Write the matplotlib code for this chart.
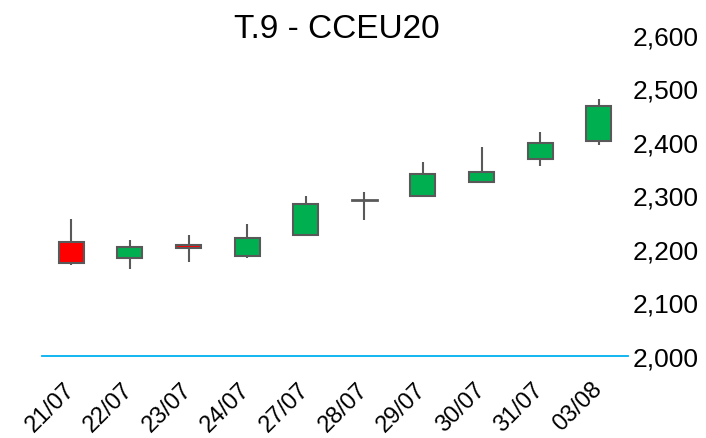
import matplotlib
matplotlib.use("Agg")
import matplotlib.pyplot as plt
from matplotlib.patches import Rectangle
from matplotlib.transforms import ScaledTranslation

plt.rcParams['font.family'] = ['Liberation Sans', 'DejaVu Sans']

dates = ["21/07", "22/07", "23/07", "24/07", "27/07", "28/07", "29/07", "30/07", "31/07", "03/08"]
opens = [2214, 2184, 2208, 2187, 2227, 2291, 2299, 2326, 2368, 2401]
highs = [2257, 2217, 2227, 2247, 2300, 2306, 2362, 2391, 2418, 2480]
lows = [2171, 2162, 2175, 2184, 2227, 2254, 2297, 2326, 2356, 2395]
closes = [2174, 2204, 2201, 2221, 2284, 2291, 2340, 2343, 2399, 2468]
yticks = [2000, 2100, 2200, 2300, 2400, 2500, 2600]

fig = plt.figure(figsize=(7.06, 4.39), dpi=100)
ax = fig.add_axes([42/706, (439-357)/439, (628-42)/706, (357-36)/439])

edge = "#595959"
w = 0.43
for i, (o, h, l, c) in enumerate(zip(opens, highs, lows, closes)):
    top = max(o, c)
    bot = min(o, c)
    ax.plot([i, i], [top, h], color=edge, lw=1.5, zorder=2, solid_capstyle='butt')
    ax.plot([i, i], [l, bot], color=edge, lw=1.5, zorder=2, solid_capstyle='butt')
    if c > o:
        fc = "#00B050"
    elif c < o:
        fc = "#FF0000"
    else:
        fc = edge
    if top - bot < 1:
        ax.plot([i - w/2, i + w/2], [o, o], color=edge, lw=2, zorder=3)
    else:
        ax.add_patch(Rectangle((i - w/2, bot), w, top - bot, facecolor=fc,
                               edgecolor=edge, lw=1.5, zorder=3))

ax.set_xlim(-0.5, len(dates) - 0.5)
ax.set_ylim(2000, 2600)
ax.set_xticks(range(len(dates)))
ax.set_xticklabels(dates, rotation=45, ha='right', va='top', rotation_mode='anchor', fontsize=17)
ax.set_yticks(yticks)
ax.set_yticklabels([f"{v:,}" for v in yticks], fontsize=19)
ax.yaxis.tick_right()
ax.tick_params(axis='y', length=0, pad=3)
ax.tick_params(axis='x', length=0, pad=12)
shift = ScaledTranslation(-0.08, -0.05, fig.dpi_scale_trans)
for lab in ax.get_xticklabels():
    lab.set_transform(lab.get_transform() + shift)
for s in ['top', 'left', 'right']:
    ax.spines[s].set_visible(False)
ax.spines['bottom'].set_color("#00B0F0")
ax.spines['bottom'].set_linewidth(1.3)

fig.text(337/706, 1 - 37.5/439, "T.9 - CCEU20", ha='center', va='baseline', fontsize=24)

fig.savefig("out.png", dpi=100)
